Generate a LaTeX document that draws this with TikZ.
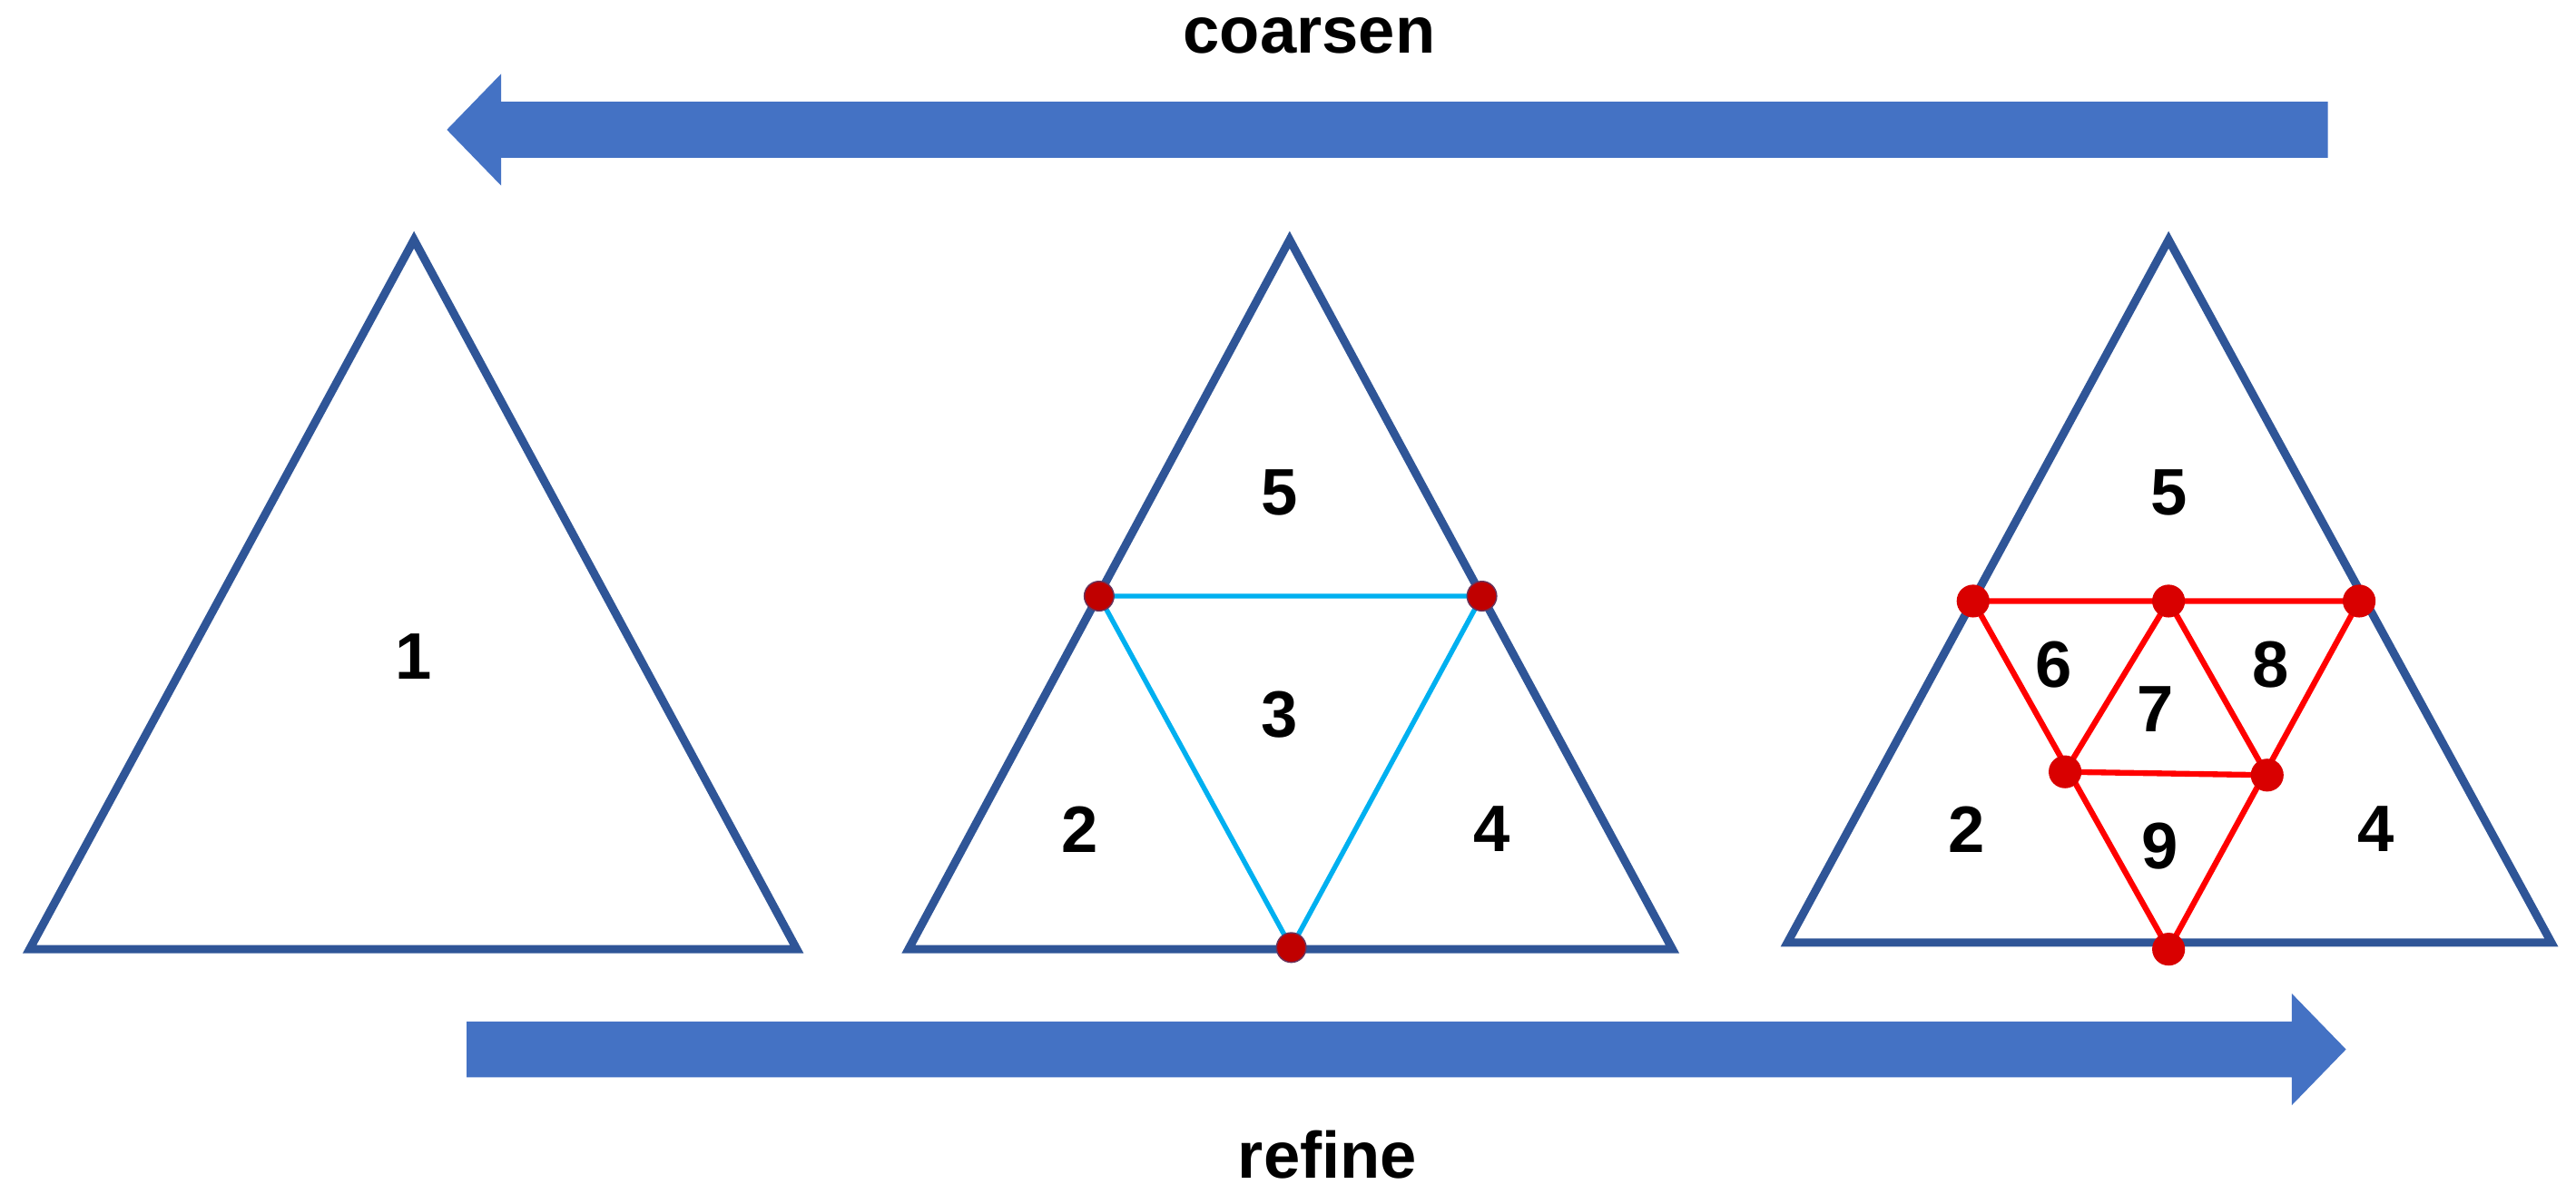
\documentclass[tikz,border=0pt]{standalone}
\usepackage{fontspec}
\setmainfont{Liberation Sans}
\definecolor{arrowblue}{HTML}{4472C4}
\definecolor{triblue}{HTML}{2F5597}
\definecolor{cyanline}{HTML}{00B0F0}
\definecolor{dotred}{HTML}{C00000}
\begin{document}
\begin{tikzpicture}[x=1pt,y=-1pt,
  tri/.style={draw=triblue,line width=5pt,line join=miter},
  cyanedge/.style={draw=cyanline,line width=3pt},
  rededge/.style={draw=red,line width=3.5pt,line join=round},
  dotc/.style={circle,fill=dotred,draw=triblue!60!dotred,line width=0.8pt,minimum size=18pt,inner sep=0pt},
  dotr/.style={circle,fill=red!85!black,minimum size=20pt,inner sep=0pt},
  lab/.style={font=\fontsize{40}{40}\selectfont\bfseries},
  bigarrow/.style={fill=arrowblue}]
\useasboundingbox (0,0) rectangle (1568,733);
% coarsen arrow
\fill[bigarrow] (1417,62) -- (305,62) -- (305,45) -- (272,79) -- (305,113) -- (305,96) -- (1417,96) -- cycle;
\node[lab] (coarsen) at (797,22) {coarsen};
% refine arrow
\fill[bigarrow] (284,622) -- (1395,622) -- (1395,605) -- (1428,639) -- (1395,673) -- (1395,656) -- (284,656) -- cycle;
\node[lab] (refine) at (808,703) {refine};
% triangle 1
\coordinate (a1) at (252,146); \coordinate (b1) at (18,578); \coordinate (c1) at (485,578);
\draw[tri] (a1) -- (b1) -- (c1) -- cycle;
\node[lab] (l1) at (252,400) {1};
% triangle 2
\coordinate (a2) at (785,146); \coordinate (b2) at (553,578); \coordinate (c2) at (1018,578);
\draw[tri] (a2) -- (b2) -- (c2) -- cycle;
\coordinate (m1) at (669,363); \coordinate (m2) at (902,363); \coordinate (m3) at (786,577);
\draw[cyanedge] (m1) -- (m2) -- (m3) -- cycle;
\node[dotc] (d1) at (m1) {}; \node[dotc] (d2) at (m2) {}; \node[dotc] (d3) at (m3) {};
\node[lab] (l5a) at (779,300) {5};
\node[lab] (l3) at (779,435) {3};
\node[lab] (l2a) at (657,505) {2};
\node[lab] (l4a) at (908,505) {4};
% triangle 3
\coordinate (a3) at (1320,146); \coordinate (b3) at (1088,574); \coordinate (c3) at (1553,574);
\draw[tri] (a3) -- (b3) -- (c3) -- cycle;
\coordinate (p1) at (1201,366); \coordinate (p2) at (1320,366); \coordinate (p3) at (1436,366);
\coordinate (p4) at (1257,470); \coordinate (p5) at (1380,472); \coordinate (p6) at (1320,578);
\draw[rededge] (p1) -- (p3) -- (p6) -- cycle;
\draw[rededge] (p2) -- (p4) -- (p5) -- cycle;
\foreach \p in {p1,p2,p3,p4,p5,p6} \node[dotr] (d\p) at (\p) {};
\node[lab] (l5b) at (1320,300) {5};
\node[lab] (l6) at (1250,405) {6};
\node[lab] (l7) at (1312,432) {7};
\node[lab] (l8) at (1382,405) {8};
\node[lab] (l9) at (1315,515) {9};
\node[lab] (l2b) at (1197,505) {2};
\node[lab] (l4b) at (1446,505) {4};
\end{tikzpicture}
\end{document}
